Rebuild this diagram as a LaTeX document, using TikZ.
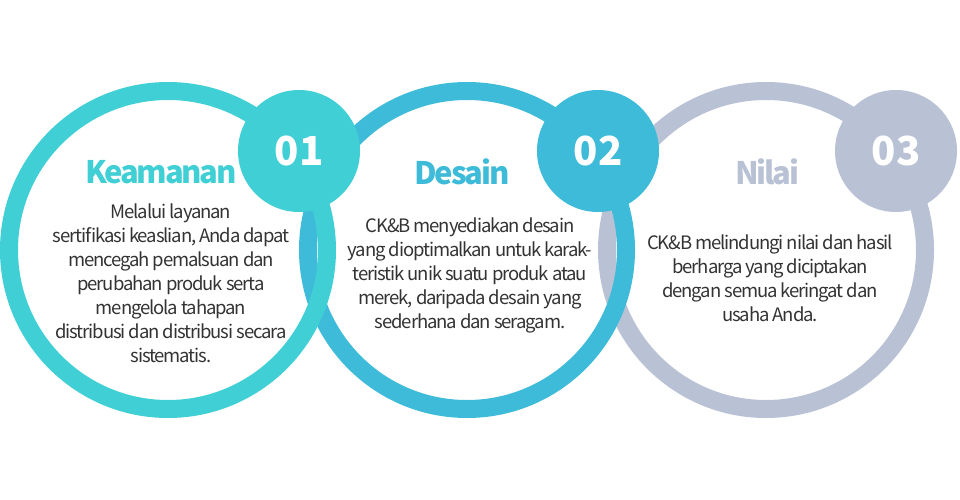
\documentclass[tikz,border=0pt]{standalone}
\usepackage{fontspec}
\setmainfont{Noto Sans CJK KR}
\usepackage{tikz}
\definecolor{c_teal}{HTML}{41CFD6}
\definecolor{c_blue}{HTML}{3EBBD9}
\definecolor{c_gray}{HTML}{B9C1D5}
\definecolor{c_text}{HTML}{333333}
\tikzset{
  ring/.style = {circle, draw=#1, line width=18pt, minimum size=318pt,
    inner sep=0pt},% lingkaran besar
  badge/.style = {circle, fill=#1, minimum size=122pt, inner sep=0pt,
    text=white, font=\fontsize{40}{40}\selectfont\bfseries},% nomor
  title/.style = {text=#1, inner sep=0pt,
    font=\fontsize{31}{31}\selectfont\bfseries\addfontfeature{LetterSpace=-7}},% judul
  body/.style = {text=c_text, align=center, inner sep=0pt,
    font=\fontsize{18.5}{24}\selectfont\addfontfeature{LetterSpace=-6}}% isi
}
\begin{document}
\begin{tikzpicture}[x=1pt, y=-1pt]
\useasboundingbox (0,0) rectangle (960,500);
\node [ring=c_gray] (ring_c) at (766,250) {};
\node [ring=c_blue] (ring_b) at (467,250) {};
\node [ring=c_teal] (ring_a) at (168,250) {};
\node [badge=c_teal] (badge_a) at (299,151) {01};
\node [badge=c_blue] (badge_b) at (598,151) {02};
\node [badge=c_gray] (badge_c) at (896,151) {03};
\node [title=c_teal] (title_a) at (161,172) {Keamanan};
\node [title=c_blue] (title_b) at (462,172) {Desain};
\node [title=c_gray] (title_c) at (767,172) {Nilai};
\node [body] (body_a) at (171,283) {Melalui layanan\\
  sertifikasi keaslian, Anda dapat\\ mencegah pemalsuan dan\\
  perubahan produk serta\\ mengelola tahapan\\
  distribusi dan distribusi secara\\ sistematis.};
\node [body] (body_b) at (470,275) {CK\&B menyediakan desain\\
  yang dioptimalkan untuk karak-\\ teristik unik suatu produk atau\\
  merek, daripada desain yang\\ sederhana dan seragam.};
\node [body] (body_c) at (770,278) {CK\&B melindungi nilai dan hasil\\
  berharga yang diciptakan\\ dengan semua keringat dan\\ usaha Anda.};
\end{tikzpicture}
\end{document}
